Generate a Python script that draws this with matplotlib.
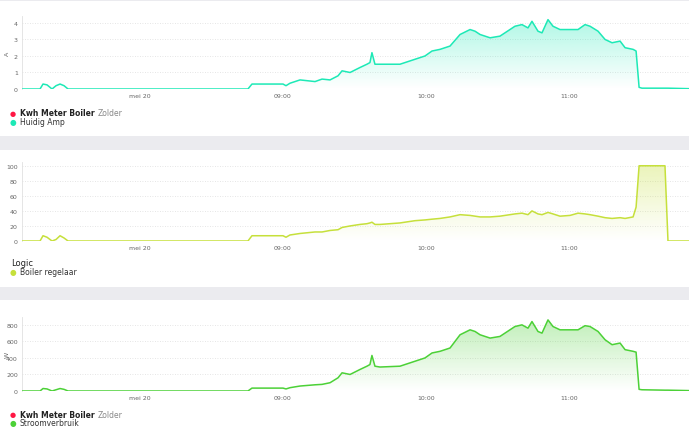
import matplotlib

matplotlib.use("Agg")
import matplotlib.pyplot as plt  # noqa: E402
import numpy as np  # noqa: E402
from matplotlib.colors import to_rgb  # noqa: E402
from matplotlib.patches import Rectangle  # noqa: E402

# time in hours (tick "mei 20" sits at 8.0 in the source chart)
times = [7.175, 7.301, 7.322, 7.350, 7.385, 7.413, 7.441, 7.469, 7.497, 8.755,
         8.783, 9.000, 9.021, 9.049, 9.119, 9.224, 9.273, 9.329, 9.385, 9.413,
         9.469, 9.538, 9.587, 9.608, 9.622, 9.643, 9.678, 9.818, 9.853, 9.923,
         9.993, 10.042, 10.098, 10.168, 10.238, 10.308, 10.343, 10.378, 10.448, 10.517,
         10.587, 10.622, 10.671, 10.713, 10.741, 10.783, 10.811, 10.853, 10.888, 10.937,
         11.007, 11.063, 11.112, 11.147, 11.203, 11.252, 11.301, 11.357, 11.392, 11.448,
         11.469, 11.490, 11.510, 11.671, 11.692, 11.839]

amps = [0, 0, 0.3, 0.25, 0, 0.2, 0.3, 0.2, 0, 0,
        0.3, 0.3, 0.2, 0.35, 0.55, 0.45, 0.6, 0.55, 0.8, 1.1,
        1.0, 1.3, 1.5, 1.6, 2.2, 1.5, 1.5, 1.5, 1.6, 1.8,
        2.0, 2.3, 2.4, 2.6, 3.3, 3.6, 3.5, 3.3, 3.1, 3.2,
        3.6, 3.8, 3.9, 3.7, 4.1, 3.5, 3.4, 4.2, 3.8, 3.6,
        3.6, 3.6, 3.9, 3.8, 3.5, 3.0, 2.8, 2.9, 2.5, 2.4,
        2.3, 0.1, 0.05, 0.05, 0.05, 0.02]

logic = [0, 0, 7, 5, 0, 2, 7, 4, 0, 0,
         7, 7, 5, 8, 10, 12, 12, 14, 15, 18,
         20, 22, 23, 24, 25, 22, 22, 24, 25, 27,
         28, 29, 30, 32, 35, 34, 33, 32, 32, 33,
         35, 36, 37, 35, 40, 36, 35, 38, 36, 33,
         34, 37, 36, 35, 33, 31, 30, 31, 30, 32,
         45, 100, 100, 100, 0, 0]

watts = [0, 0, 30, 25, 0, 15, 30, 20, 0, 0,
         35, 35, 25, 40, 60, 75, 80, 100, 160, 220,
         200, 260, 300, 320, 430, 300, 290, 300, 320, 360,
         400, 460, 480, 520, 680, 740, 720, 680, 640, 660,
         740, 780, 800, 760, 840, 720, 700, 860, 780, 740,
         740, 740, 790, 780, 720, 620, 560, 580, 500, 480,
         470, 20, 15, 10, 10, 5]

tick_pos = [8, 9, 10, 11]
tick_labels = ["mei 20", "09:00", "10:00", "11:00"]

W, H = 689, 439
fig = plt.figure(figsize=(W / 100, H / 100), dpi=100, facecolor="#ebebef")
for top, bot in [(2, 137), (151, 288), (301, 439)]:
    fig.patches.append(Rectangle((0, 1 - bot / H), 1, (bot - top) / H,
                                 transform=fig.transFigure, facecolor="white",
                                 edgecolor="none", zorder=-10))

panels = [
    (amps, "#1de9b6", 90, 17, 4.42, [0, 1, 2, 3, 4], "A",
     ("Kwh Meter Boiler", "Zolder"), "Huidig Amp", 114),
    (logic, "#c6e03b", 242, 163, 105, [0, 20, 40, 60, 80, 100], "",
     ("Logic", None), "Boiler regelaar", 264),
    (watts, "#4cd137", 392, 318, 895, [0, 200, 400, 600, 800], "W",
     ("Kwh Meter Boiler", "Zolder"), "Stroomverbruik", 415),
]

for vals, col, y0, ytop, ymax, yticks, unit, title, name, ly in panels:
    ax = fig.add_axes([22 / W, 1 - y0 / H, 1 - 22 / W, (y0 - ytop) / H])
    ax.set_facecolor("none")
    ax.plot(times, vals, color=col, lw=1.1, zorder=3)
    # vertical gradient fill under the line
    rgb = to_rgb(col)
    grad = np.zeros((100, 1, 4))
    grad[:, 0, :3] = rgb
    grad[:, 0, 3] = np.linspace(0.35, 0.0, 100)
    img = ax.imshow(grad, aspect="auto", extent=[times[0], times[-1], 0, max(vals)],
                    origin="upper", zorder=2)
    poly = ax.fill_between(times, vals, 0, color="none")
    img.set_clip_path(poly.get_paths()[0], transform=ax.transData)
    ax.set_xlim(times[0], times[-1])
    ax.set_ylim(0, ymax)
    ax.set_xticks(tick_pos, tick_labels)
    ax.set_yticks(yticks)
    ax.tick_params(labelsize=4.5, colors="#666666", length=0, pad=3)
    ax.grid(axis="y", color="#dddddd", ls=(0, (1, 2)), lw=0.6)
    for s in ["top", "right", "bottom"]:
        ax.spines[s].set_visible(False)
    ax.spines["left"].set_color("#e0e0e0")
    ax.spines["left"].set_linewidth(0.6)
    if unit:
        fig.text(7 / W, 1 - (y0 - (y0 - ytop) / 2) / H, unit, fontsize=4.5,
                 color="#666666", rotation=90, ha="center", va="center")
    # legend block
    if title[1]:
        fig.text(13 / W, 1 - ly / H, "\u25cf", fontsize=5, color="#ff1744",
                 ha="center", va="center")
        t = fig.text(20 / W, 1 - ly / H, title[0], fontsize=5.5, color="#222222",
                     weight="bold", va="center")
        fig.canvas.draw()
        bb = t.get_window_extent()
        fig.text((bb.x1 + 3) / W, 1 - ly / H, title[1], fontsize=5.5,
                 color="#888888", va="center")
    else:
        fig.text(11 / W, 1 - ly / H, title[0], fontsize=6, color="#222222",
                 va="center")
    fig.text(13 / W, 1 - (ly + 8.5) / H, "\u25cf", fontsize=5.5, color=col,
             ha="center", va="center")
    fig.text(20 / W, 1 - (ly + 8.5) / H, name, fontsize=5.5, color="#333333",
             va="center")

fig.savefig("out.png", dpi=100, facecolor=fig.get_facecolor())
